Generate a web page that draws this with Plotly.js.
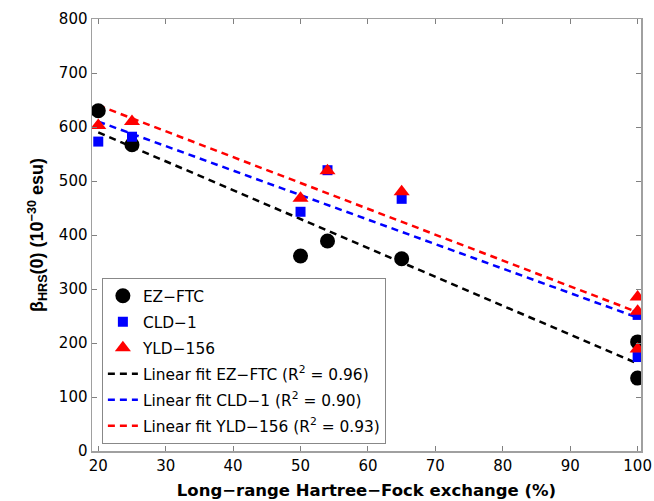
<!DOCTYPE html>
<html>
<head>
<meta charset="utf-8">
<script src="https://cdn.plot.ly/plotly-3.0.1.min.js"></script>
<style>html,body{margin:0;padding:0;background:#fff;}#chart{width:654px;height:501px;}</style>
</head>
<body>
<div id="chart"></div>
<script>
// Data
const ezX = [20, 25, 50, 54, 65, 100, 100];
const ezY = [630, 567, 361, 389, 356, 202, 135];
const cldX = [20, 25, 50, 54, 65, 100, 100];
const cldY = [573, 582, 443, 520, 467, 252, 174];
const yldX = [20, 25, 50, 54, 65, 100, 100, 100];
const yldY = [603, 610, 468, 519, 480, 285, 259, 189];
const fitX = [20, 100];
const fitEZ = [590, 162];
const fitCLD = [610, 247];
const fitYLD = [640, 257];
const names = ['EZ\u2212FTC', 'CLD\u22121', 'YLD\u2212156',
  'Linear fit EZ\u2212FTC (R<sup>2</sup> = 0.96)',
  'Linear fit CLD\u22121 (R<sup>2</sup> = 0.90)',
  'Linear fit YLD\u2212156 (R<sup>2</sup> = 0.93)'];
const xTicks = [20, 30, 40, 50, 60, 70, 80, 90, 100];
const yTicks = [0, 100, 200, 300, 400, 500, 600, 700, 800];

const WIDE = 'DejaVu Sans, Verdana, sans-serif';
const FONT = 'Liberation Sans, Arial, Helvetica, sans-serif';
const dash = '7px,5px';

const traces = [
  {x: ezX, y: ezY, name: names[0], mode: 'markers', legendgroup: 'a',
   marker: {symbol: 'circle', size: 15, color: '#000000'}},
  {x: cldX, y: cldY, name: names[1], mode: 'markers', legendgroup: 'b',
   marker: {symbol: 'square', size: 10, color: '#0000ff'}},
  {x: yldX, y: yldY, name: names[2], mode: 'markers', legendgroup: 'c',
   marker: {symbol: 'triangle-up', size: 14, color: '#ff0000'}},
  {x: fitX, y: fitEZ, name: names[3], mode: 'lines', legendgroup: 'd',
   line: {color: '#000000', width: 2.5, dash: dash}},
  {x: fitX, y: fitCLD, name: names[4], mode: 'lines', legendgroup: 'e',
   line: {color: '#0000ff', width: 2.5, dash: dash}},
  {x: fitX, y: fitYLD, name: names[5], mode: 'lines', legendgroup: 'f',
   line: {color: '#ff0000', width: 2.5, dash: dash}}
];
// draw markers above lines
const ordered = [traces[3], traces[4], traces[5], traces[0], traces[1], traces[2]];
ordered.forEach((t, i) => { t.legendrank = [4,5,6,1,2,3][i]; });

const axisCommon = {
  showgrid: false, zeroline: false, showline: true, linecolor: '#a0a0a0', linewidth: 1.5,
  mirror: 'ticks', ticks: 'inside', ticklen: 5, tickcolor: '#808080', tickwidth: 1,
  tickfont: {family: WIDE, size: 15, color: '#000'}
};

const layout = {
  width: 654, height: 501,
  margin: {l: 92, r: 13, t: 19, b: 50},
  paper_bgcolor: '#fff', plot_bgcolor: '#fff',
  showlegend: true,
  xaxis: Object.assign({}, axisCommon, {
    range: [19.07, 100.5], tickvals: xTicks, ticktext: xTicks.map(String),
    title: {text: '<b>Long\u2212range Hartree\u2212Fock exchange (%)</b>',
            font: {family: WIDE, size: 16.5, color: '#000'}, standoff: 11}
  }),
  yaxis: Object.assign({}, axisCommon, {
    range: [0, 800], tickvals: yTicks, ticktext: yTicks.map(String),
    title: {text: '<b>\u03b2<sub>HRS</sub>(0) (10<sup>\u221230</sup> esu)</b>',
            font: {family: FONT, size: 18, color: '#000'}, standoff: 10}
  }),
  legend: {
    x: 0.018, y: 0.40, xanchor: 'left', yanchor: 'top',
    bgcolor: '#ffffff', bordercolor: '#888888', borderwidth: 1,
    font: {family: WIDE, size: 15.4, color: '#000'},
    traceorder: 'grouped', tracegroupgap: 3
  }
};

Plotly.newPlot('chart', ordered, layout, {displayModeBar: false, staticPlot: true});
</script>
</body>
</html>
